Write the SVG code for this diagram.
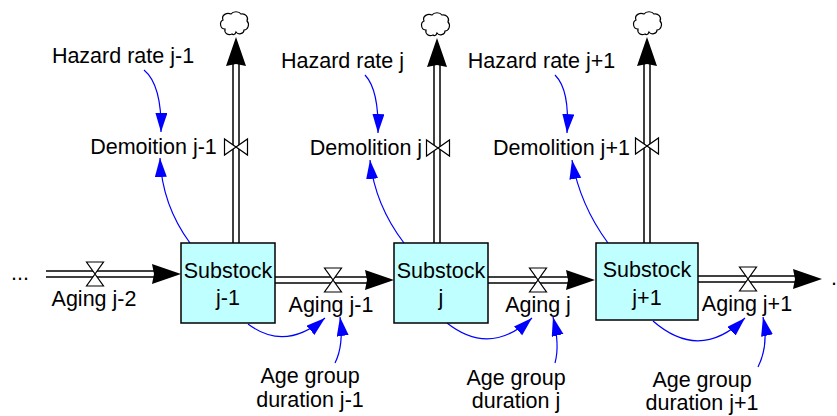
<svg xmlns="http://www.w3.org/2000/svg" width="837" height="416" viewBox="0 0 837 416">
<style>
text{font-family:"Liberation Sans",Arial,sans-serif;font-size:21.5px;fill:#000;text-anchor:middle}
.pipeO{stroke:#000;stroke-width:7.5;fill:none}
.pipeI{stroke:#fff;stroke-width:4.5;fill:none}
.stock{fill:#C0FFFF;stroke:#000;stroke-width:1.5}
.valve{fill:#fff;stroke:#000;stroke-width:1.2}
.link{fill:none;stroke:#0000FF;stroke-width:1.2}
.cloud{fill:#fff;stroke:#000;stroke-width:1.2}
</style>
<defs>
<marker id="bl" markerUnits="userSpaceOnUse" markerWidth="22" markerHeight="14" refX="19" refY="6" orient="auto">
<path d="M0,0 L19,6 L0,12 Z" fill="#0000FF"/>
</marker>
<path id="cl" class="cloud" d="M-2,11 C-6,13 -10,10 -9,6 C-14,6 -15,-1 -11,-3 C-13,-8 -7,-11 -3,-9 C-1,-12 5,-12 7,-9 C11,-10 15,-6 13,-2 C16,1 14,7 10,7 C10,11 4,12 2,9 C1,12 -1,12 -2,11 Z"/>
<path id="ah" d="M0,0 L-29,-10 L-27,0 L-29,10 Z" fill="#000"/>
<path id="vh" class="valve" d="M-8.5,-12 L8.5,-12 L0,0 L8.5,12 L-8.5,12 L0,0 Z"/>
<path id="vv" class="valve" d="M-11.5,-8 L-11.5,8 L0,0 L11.5,8 L11.5,-8 L0,0 Z"/>
</defs>

<g id="flows">
<!-- Aging j-2 -->
<line class="pipeO" x1="46" y1="274" x2="155" y2="274"/>
<line class="pipeI" x1="45" y1="274" x2="155" y2="274"/>
<use href="#ah" transform="translate(181,274)"/>
<!-- Aging j-1 -->
<line class="pipeO" x1="275" y1="280" x2="367" y2="280"/>
<line class="pipeI" x1="274" y1="280" x2="367" y2="280"/>
<use href="#ah" transform="translate(394,280)"/>
<!-- Aging j -->
<line class="pipeO" x1="488" y1="280" x2="569" y2="280"/>
<line class="pipeI" x1="487" y1="280" x2="569" y2="280"/>
<use href="#ah" transform="translate(595,280)"/>
<!-- Aging j+1 -->
<line class="pipeO" x1="698" y1="279" x2="795" y2="279"/>
<line class="pipeI" x1="697" y1="279" x2="795" y2="279"/>
<use href="#ah" transform="translate(822,279)"/>
<!-- Demolition pipes -->
<line class="pipeO" x1="236" y1="243" x2="236" y2="62"/>
<line class="pipeI" x1="236" y1="244" x2="236" y2="62"/>
<use href="#ah" transform="translate(236,37) rotate(-90)"/>
<line class="pipeO" x1="437" y1="243" x2="437" y2="64"/>
<line class="pipeI" x1="437" y1="244" x2="437" y2="64"/>
<use href="#ah" transform="translate(437,38) rotate(-90)"/>
<line class="pipeO" x1="647" y1="243" x2="647" y2="62"/>
<line class="pipeI" x1="647" y1="244" x2="647" y2="62"/>
<use href="#ah" transform="translate(647,37) rotate(-90)"/>
<!-- clouds -->
<use href="#cl" transform="translate(234,23)"/>
<use href="#cl" transform="translate(435,24)"/>
<use href="#cl" transform="translate(647,23)"/>
<!-- valves -->
<use href="#vh" transform="translate(95,274)"/>
<use href="#vh" transform="translate(333,280)"/>
<use href="#vh" transform="translate(538,280)"/>
<use href="#vh" transform="translate(748,279)"/>
<use href="#vv" transform="translate(236,147)"/>
<use href="#vv" transform="translate(438,148)"/>
<use href="#vv" transform="translate(647,146)"/>
</g>

<g id="connectors">
<path class="link" marker-end="url(#bl)" d="M144,70 Q162,85 161,132"/>
<path class="link" marker-end="url(#bl)" d="M190,243 Q162,205 160,158"/>
<path class="link" marker-end="url(#bl)" d="M248,324 Q285,352 325,318"/>
<path class="link" marker-end="url(#bl)" d="M335,363 Q344,345 340,317"/>
<path class="link" marker-end="url(#bl)" d="M365,75 Q379,90 378,133"/>
<path class="link" marker-end="url(#bl)" d="M404,243 Q375,205 370,160"/>
<path class="link" marker-end="url(#bl)" d="M447,323 Q490,357 532,318"/>
<path class="link" marker-end="url(#bl)" d="M555,363 Q560,345 553,317"/>
<path class="link" marker-end="url(#bl)" d="M555,75 Q570,90 567,133"/>
<path class="link" marker-end="url(#bl)" d="M608,243 Q580,205 572,160"/>
<path class="link" marker-end="url(#bl)" d="M653,321 Q700,362 745,318"/>
<path class="link" marker-end="url(#bl)" d="M758,367 Q769,345 763,317"/>
</g>

<g id="stock-j-1">
<rect class="stock" x="181" y="243" width="94" height="80"/>
<text x="228" y="278">Substock</text>
<text x="228" y="305">j-1</text>
</g>
<g id="stock-j">
<rect class="stock" x="394" y="243" width="94" height="80"/>
<text x="441" y="278">Substock</text>
<text x="441" y="305">j</text>
</g>
<g id="stock-j+1">
<rect class="stock" x="596" y="243" width="102" height="77"/>
<text x="647" y="277">Substock</text>
<text x="647" y="305">j+1</text>
</g>

<g id="labels">
<text x="123" y="63">Hazard rate j-1</text>
<text x="153.5" y="154">Demoition j-1</text>
<text x="342.5" y="68">Hazard rate j</text>
<text x="366" y="155">Demolition j</text>
<text x="541.5" y="68">Hazard rate j+1</text>
<text x="561.5" y="155">Demolition j+1</text>
<text x="94" y="306">Aging j-2</text>
<text x="331" y="312">Aging j-1</text>
<text x="538" y="312">Aging j</text>
<text x="747" y="311">Aging j+1</text>
<text x="310" y="383">Age group</text>
<text x="310" y="407">duration j-1</text>
<text x="516" y="385">Age group</text>
<text x="516" y="408">duration j</text>
<text x="702" y="387">Age group</text>
<text x="702" y="410">duration j+1</text>
<text x="20" y="280">...</text>
<text x="834" y="285">.</text>
</g>
</svg>
